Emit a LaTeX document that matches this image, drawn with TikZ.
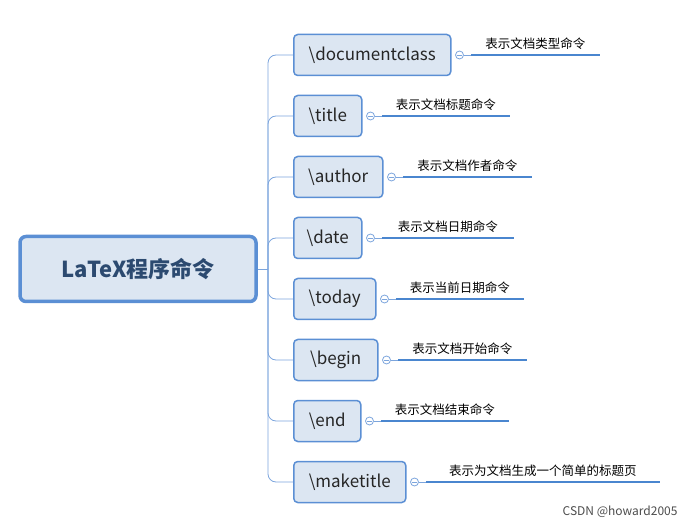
\documentclass[tikz,border=0pt]{standalone}
\usepackage{fontspec}
\setmainfont{Noto Sans CJK SC}
\definecolor{bfill}{HTML}{DCE6F2}
\definecolor{bdraw}{HTML}{5B8FD4}
\definecolor{lline}{HTML}{4A86CF}
\definecolor{rtext}{HTML}{2C4A70}
\begin{document}
\begin{tikzpicture}[x=1pt,y=-1pt,
  child/.style={draw=bdraw,fill=bfill,line width=1.5pt,rounded corners=4pt,minimum height=41pt,anchor=west,inner xsep=12pt,font=\fontsize{17}{17}\selectfont,text=black!85},
  rootbox/.style={draw=bdraw,fill=bfill,line width=3.5pt,rounded corners=6pt,minimum width=236pt,minimum height=65pt,font=\bfseries\fontsize{22}{22}\selectfont,text=rtext},
  conn/.style={draw=bdraw!80,line width=0.8pt,rounded corners=8pt},
  knob/.style={circle,draw=bdraw!80,fill=white,line width=0.8pt,inner sep=0pt,minimum size=8pt},
  uline/.style={draw=lline,line width=2.5pt},
  lab/.style={font=\fontsize{12.5}{12.5}\selectfont,anchor=south,inner sep=1pt}]
\useasboundingbox (0,0) rectangle (685,526);
\node[rootbox] (root) at (138,269) {LaTeX程序命令};
\coordinate (t) at (268,269);
\draw[conn] (root.east) -- (t);
\foreach \n/\y/\txt/\w/\e in {
  a/55/\textbackslash documentclass/157/600,
  b/116/\textbackslash title/68/510,
  c/177/\textbackslash author/89/532,
  d/238/\textbackslash date/68/514,
  e/299/\textbackslash today/82/524,
  f/360/\textbackslash begin/84/527,
  g/421/\textbackslash end/67/509,
  h/482/\textbackslash maketitle/112/660}{
  \node[child,minimum width=\w pt] (\n) at (293,\y) {\txt};
  \draw[conn] (t) |- (\n.west);
  \node[knob] (k\n) at ([xshift=8pt]\n.east) {};
  \draw[bdraw!80,line width=0.8pt] ([xshift=-2.5pt]k\n.center) -- ([xshift=2.5pt]k\n.center);
  \coordinate (e\n) at (\e,\y);
  \draw[conn] (k\n.east) -- ([xshift=7pt]k\n.east);
  \draw[uline] ([xshift=7pt]k\n.east) -- (e\n);
}
\foreach \n/\txt in {a/表示文档类型命令,b/表示文档标题命令,c/表示文档作者命令,d/表示文档日期命令,e/表示当前日期命令,f/表示文档开始命令,g/表示文档结束命令,h/表示为文档生成一个简单的标题页}{
  \path ([xshift=7pt]k\n.east) -- (e\n) node[lab,midway,yshift=4pt] (l\n) {\txt};
}
\node[font=\fontsize{12}{12}\selectfont,text=black!70,anchor=south east] (wm) at (681,521) {CSDN @howard2005};
\end{tikzpicture}
\end{document}
